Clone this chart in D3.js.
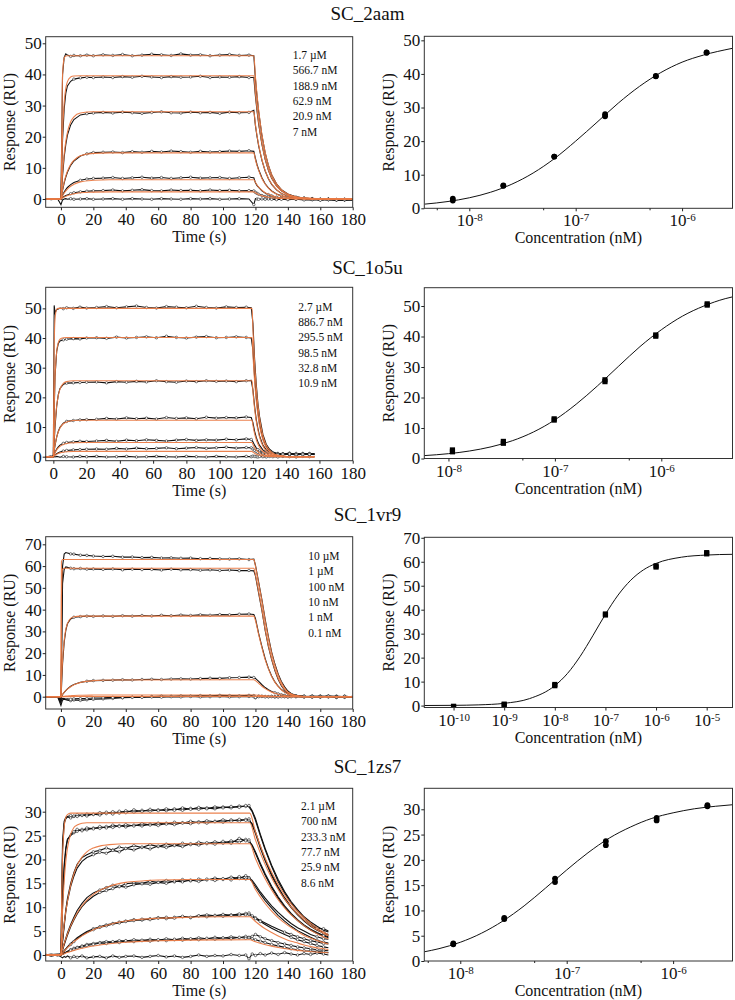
<!DOCTYPE html>
<html><head><meta charset="utf-8">
<script src="https://cdn.jsdelivr.net/npm/d3@7"></script>
<style>
body{margin:0;background:#fff}
svg text{font-family:"Liberation Serif","Times New Roman",Times,serif;fill:#111}
</style>
</head><body>
<svg id="c" width="735" height="1000" font-family="Liberation Serif, Times New Roman, serif"></svg>
<script>
// ================= DATA =================
const titles = ["SC_2aam","SC_1o5u","SC_1vr9","SC_1zs7"];

// ---- Panel 1 (SC_2aam) ----
const p1Labels = ["1.7 µM","566.7 nM","188.9 nM","62.9 nM","20.9 nM","7 nM"];
const p1Time = [-10,-6,-2,0,1,2,3,4,6,8,12,16,20,26,32,38,44,50,56,62,68,74,80,86,92,98,104,110,116,119,120,121,122,124,126,128,130,133,136,140,145,150,155,160,165,170,175,180];
const p1Black = [
 [0.1,-0.2,0.1,0, 40,45.5,46.6,46.2,45.8,46.1,46.0,46.2,46.0, 46.3,46.1,46.4,46.0,46.2,46.5,46.3,46.1,46.6,46.2,46.3,46.0,46.2,46.4,46.1,46.2, 46.0, 38.5,32.8,28.0,20.4,14.8,10.8,7.8,4.9,3.0,1.6,0.7,0.3,0.1,-0.2,-0.1,-0.3,-0.2,-0.1],
 [0,0.1,-0.1,0.1, 19,29,34,36.3,37.8,38.5,38.9,39.1,39.0, 39.2,39.0,39.3,39.1,39.4,39.2,39.0,39.3,39.1,39.2,39.4,39.0,39.2,39.1,39.3,39.0, 39.0, 33.0,28.2,24.0,17.5,12.7,9.2,6.7,4.2,2.6,1.4,0.6,0.3,0.1,-0.1,-0.2,-0.2,-0.3,-0.2],
 [-0.1,0.1,0,0, 7.5,13.5,17.5,20.5,23.8,25.5,27.0,27.4,27.6, 27.8,27.6,27.9,27.7,27.5,27.8,28.0,27.7,27.6,27.9,27.7,27.8,27.5,27.9,27.7,27.8, 28.5, 23.5,20.0,17.0,12.4,9.0,6.5,4.7,2.9,1.8,0.9,0.4,0.1,0,-0.2,-0.1,-0.3,-0.2,-0.2],
 [0.1,0,-0.1,0, 2.8,5.2,7.0,8.6,10.8,12.2,13.8,14.5,14.9, 15.0,15.1,14.9,15.2,15.0,15.3,15.1,15.4,15.2,15.0,15.3,15.1,15.2,15.4,15.3,15.5, 15.3, 13.0,11.0,9.4,6.8,4.9,3.6,2.6,1.6,1.0,0.5,0.2,0,-0.1,-0.2,-0.1,-0.3,-0.2,-0.1],
 [0,-0.1,0.1,0, 1.2,2.2,3.0,3.7,4.6,5.3,6.0,6.4,6.6, 6.7,6.9,6.6,6.8,7.0,6.7,6.9,6.6,6.8,7.0,6.7,6.8,6.9,6.6,6.8,7.0, 6.8, 5.2,4.3,3.7,2.6,1.9,1.4,1.0,0.6,0.3,0.1,0,-0.1,-0.1,-0.2,-0.1,-0.2,-0.3,-0.2],
 [0.1,0,0,-0.1, 0.5,0.8,1.1,1.3,1.7,2.0,2.3,2.5,2.6, 2.7,2.9,2.6,2.8,3.0,2.7,2.6,2.9,2.7,2.8,2.6,2.9,2.7,2.8,2.6,2.7, 2.6, 2.1,1.8,1.5,1.1,0.8,0.6,0.4,0.2,0.1,0,-0.1,-0.1,-0.2,-0.1,-0.2,-0.2,-0.1,-0.2],
 [0.1,-0.1,0,-1.8, -0.3,0,0.1,-0.1,0.1,-0.1,0,0.1,-0.1, 0,0.1,-0.1,0.1,0,-0.1,0.1,0,-0.1,0.1,0,0.1,-0.1,0,0.1,0, -1.8, 0.1,0,-0.1,0,-0.1,0,-0.1,-0.2,-0.1,-0.2,-0.1,-0.3,-0.2,-0.4,-0.2,-0.3,-0.2,-0.3]
];
const p1FitTime = [-10,0,1,2,3,4,6,8,12,20,30,119,120,121,122,124,126,128,130,133,136,140,145,150,160,180];
const p1Fit = [
 [0,0,39.8,45.2,45.9,46,46,46,46,46,46,46, 39.2,33.4,28.5,20.7,15.0,10.9,7.9,4.9,3.0,1.6,0.7,0.35,0.06,0],
 [0,0,21.1,30.9,35.6,37.7,39.2,39.5,39.6,39.6,39.6,39.6, 33.7,28.7,24.5,17.8,12.9,9.4,6.8,4.2,2.6,1.4,0.6,0.3,0.06,0],
 [0,0,8.5,14.4,18.5,21.4,24.8,26.4,27.6,28.0,28.0,28.0, 23.9,20.3,17.3,12.6,9.1,6.6,4.8,3.0,1.8,1.0,0.45,0.2,0.04,0],
 [0,0,3.0,5.5,7.4,8.9,11.1,12.4,13.9,14.65,14.8,14.8, 12.6,10.7,9.2,6.6,4.8,3.5,2.5,1.6,1.0,0.5,0.24,0.1,0.02,0],
 [0,0,1.0,1.9,2.6,3.2,4.1,4.7,5.5,6.0,6.2,6.2, 5.3,4.5,3.8,2.8,2.0,1.5,1.07,0.66,0.41,0.22,0.1,0.05,0,0],
 [0,0,0.35,0.65,0.9,1.1,1.45,1.7,2.0,2.2,2.3,2.3, 2.0,1.7,1.4,1.0,0.75,0.55,0.4,0.24,0.15,0.08,0.04,0.02,0,0]
];
const p1Conc = [7e-9,20.9e-9,62.9e-9,188.9e-9,566.7e-9,1.7e-6];
const p1RepA = [2.3,6.7,15.4,27.4,39.3,46.3];
const p1RepB = [2.9,6.8,15.4,28.0,39.4,46.4];
const p1CurveLogC = [-8.42,-8.2,-8.0,-7.8,-7.6,-7.4,-7.2,-7.0,-6.8,-6.6,-6.4,-6.2,-6.0,-5.8,-5.53];
const p1CurveResp = [1.24,2.02,3.13,4.78,7.18,10.5,14.8,20.0,25.6,31.3,36.3,40.4,43.5,45.6,47.6];

// ---- Panel 2 (SC_1o5u) ----
const p2Labels = ["2.7 µM","886.7 nM","295.5 nM","98.5 nM","32.8 nM","10.9 nM"];
const p2Time = [-5,-2,0,0.5,1,2,3,4,6,8,12,16,20,26,32,38,44,50,56,62,68,74,80,86,92,98,104,110,116,119,120,121,122,123,124,126,128,130,132,135,138,142,146,150,154,157];
const p2Black = [
 [-0.2,0,0.3, 51,48.5,49.6,49.8,50.1,49.9,50.2,50.0,50.4,50.1, 50.3,50.6,50.2,50.5,50.8,50.3,50.1,50.6,50.4,50.2,50.7,50.3,50.1,50.5,50.3,50.4, 50.2, 45,33,24.5,18,13.5,7.5,4.2,2.5,1.6,1.1,0.9,1.2,0.7,1.1,0.8,1.0],
 [0,0.1,0.2, 15,27,35.5,38.2,39.0,39.4,39.6,39.8,39.7,40.0, 40.1,39.9,40.3,40.0,40.2,40.4,40.1,40.6,40.2,40.0,40.3,40.5,40.1,40.2,40.4,40.2, 40.0, 36,27,20,15,11,6.0,3.4,2.0,1.3,0.9,1.0,0.7,1.1,0.8,1.0,0.7],
 [-0.1,0.1,0, 5,10,17,21,23,24.4,24.8,24.9,25.0,25.1, 25.2,24.9,25.3,25.1,25.4,25.2,25.6,25.3,25.1,25.5,25.3,25.6,25.4,25.5,25.3,25.6, 25.7, 22.5,17,12.5,9.5,7.0,3.9,2.3,1.5,1.1,0.8,0.9,1.1,0.7,0.9,1.1,0.8],
 [0,0,0, 2,3.8,6.6,8.6,9.9,11.3,11.9,12.2,12.4,12.5, 12.6,12.9,12.7,13.1,12.8,13.0,12.7,13.2,12.9,13.1,12.8,13.3,13.0,13.2,13.1,13.4, 13.2, 11.5,8.6,6.5,5.0,3.8,2.3,1.5,1.1,0.9,0.8,1.0,0.7,0.9,1.0,0.8,0.9],
 [0.1,-0.1,0, 0.8,1.5,2.6,3.3,3.9,4.5,4.8,5.0,5.2,5.1, 5.3,5.5,5.2,5.6,5.4,5.7,5.5,5.3,5.6,5.8,5.5,5.7,5.6,5.9,5.7,6.0, 5.8, 5.0,3.9,3.0,2.4,1.9,1.3,1.0,0.8,0.9,0.7,0.9,1.0,0.7,0.9,0.8,1.0],
 [0,0.1,0, 0.3,0.6,1.0,1.3,1.6,1.9,2.1,2.3,2.4,2.5, 2.6,2.5,2.8,2.6,2.9,2.7,2.8,3.0,2.7,2.9,3.1,2.8,3.0,3.2,2.9,3.1, 3.0, 2.6,2.1,1.7,1.4,1.2,0.9,0.8,0.7,0.8,0.6,0.8,0.9,0.6,0.8,0.7,0.9],
 [0,-0.1,0.1, 0,-0.1,0.1,0,-0.2,0.1,0,-0.1,0.1,0, 0.1,-0.1,0,0.1,-0.1,0,0.1,0,-0.1,0.1,0,-0.1,0.1,0,-0.1,0.1, 0, 0.2,0.1,0,-0.1,0.1,0,-0.1,0.1,0,-0.1,0.1,0,-0.1,0.1,0,-0.1]
];
const p2FitTime = [-5,0,0.5,1,2,3,4,6,8,12,20,119.5,120,121,122,123,124,126,128,130,132,135,138,142,157];
const p2Fit = [
 [0,0,36.4,46.3,49.7,50,50,50,50,50,50,50, 43.1,31.9,23.6,17.5,13.0,7.1,3.9,2.2,1.2,0.5,0.2,0,0],
 [0,0,16.5,26.3,35.4,38.5,39.6,40.1,40.2,40.2,40.2,40.2, 34.6,25.6,19.0,14.1,10.4,5.7,3.1,1.7,0.9,0.4,0.16,0,0],
 [0,0,6.1,10.8,17.1,20.7,22.8,24.7,25.3,25.6,25.6,25.6, 22.0,16.3,12.1,9.0,6.6,3.6,2.0,1.1,0.6,0.25,0.1,0,0],
 [0,0,2.15,3.9,6.6,8.4,9.7,11.1,11.7,12.2,12.3,12.3, 10.6,7.8,5.8,4.3,3.2,1.75,0.96,0.53,0.29,0.12,0.05,0,0],
 [0,0,0.73,1.35,2.3,3.0,3.5,4.14,4.46,4.7,4.8,4.8, 4.1,3.1,2.3,1.7,1.2,0.68,0.37,0.2,0.11,0.05,0.02,0,0],
 [0,0,0.26,0.48,0.83,1.09,1.28,1.52,1.65,1.76,1.8,1.8, 1.55,1.15,0.85,0.63,0.47,0.26,0.14,0.08,0.04,0.02,0,0,0]
];
const p2Conc = [10.9e-9,32.8e-9,98.5e-9,295.5e-9,886.7e-9,2.7e-6];
const p2RepA = [2.2,5.0,12.6,25.2,40.1,50.3];
const p2RepB = [2.8,5.6,13.0,25.8,40.5,50.7];
const p2CurveLogC = [-8.227,-8.0,-7.8,-7.6,-7.4,-7.2,-7.0,-6.8,-6.6,-6.4,-6.2,-6.0,-5.8,-5.6,-5.4,-5.33];
const p2CurveResp = [0.95,1.58,2.47,3.82,5.82,8.71,12.67,17.8,23.8,30.3,36.7,42.2,46.7,50.0,52.4,53.0];

// ---- Panel 3 (SC_1vr9) ----
const p3Labels = ["10 µM","1 µM","100 nM","10 nM","1 nM","0.1 nM"];
const p3Time = [-10,-6,-2,0,1,2,3,4,6,8,12,16,20,26,32,38,44,50,56,62,68,74,80,86,92,98,104,110,116,119,120,122,124,126,128,130,132,134,136,138,140,142,145,150,155,160,165,170,175,180];
const p3Black = [
 [0.2,-0.3,0.1,-3, 60,65.5,66.2,66.0,65.6,65.5,65.0,64.9,64.6, 64.4,64.5,64.1,64.2,63.9,64.0,63.7,63.8,63.6,63.7,63.4,63.5,63.3,63.2,63.3,63.0, 63.2, 60.5,52.5,44.5,35.5,27.5,20.5,15,10.5,7,4.5,2.6,1.5,0.6,0.2,-0.1,0.3,0.1,-0.4,0.2,-0.1],
 [0,0.1,-0.2,-2, 52,58.5,59.6,59.4,59.0,58.8,58.9,58.6,58.7, 58.5,58.7,58.3,58.6,58.4,58.5,58.2,58.6,58.3,58.4,58.1,58.3,58.0,58.2,57.9,58.0, 57.8, 55.5,47.5,39.5,30.5,23,17,12,8,5,3,1.7,1.0,0.4,0.1,0.2,-0.2,0.3,0.1,-0.3,0.2],
 [0,0,0.1,-1.5, 15,25,30.5,33.5,35.7,36.5,36.8,37.0,36.9, 37.1,36.9,37.2,37.0,37.3,37.1,37.4,37.2,37.5,37.3,37.6,37.4,37.7,37.6,37.9,38.0, 37.8, 36,29,23,17.5,13,9.5,6.8,4.8,3.3,2.2,1.4,0.9,0.4,0.1,-0.2,0.2,-0.1,0.3,0,-0.2],
 [0,0,0,-0.5, 1,2,2.8,3.6,4.8,5.6,6.6,7.1,7.4, 7.5,7.6,7.8,7.7,7.9,8.0,7.9,8.1,8.2,8.1,8.3,8.5,8.4,8.7,8.8,9.0, 8.8, 8.4,7.0,5.5,4.2,3.2,2.4,1.8,1.3,0.9,0.6,0.4,0.3,0.1,0,0.2,-0.1,0.3,0,-0.2,0.1],
 [0.1,-0.1,0,-4, -1.5,-1.2,-1.4,-1.6,-1.8,-1.5,-1.7,-1.4,-1.2, -1.0,-0.8,-0.5,-0.3,0,0.1,0.3,0.2,0.4,0.3,0.5,0.4,0.6,0.5,0.4,0.6, 0.5, -0.5,0.3,0.2,0.1,0,0.1,-0.1,0,0.2,0,-0.1,0.1,0,-0.2,0.3,0.1,0,-0.1,0.2,0],
 [0,0.1,-0.1,-2, -0.8,-0.9,-1.1,-1.0,-1.2,-1.0,-0.9,-0.8,-0.6, -0.5,-0.3,-0.4,-0.2,-0.3,-0.1,-0.2,0,-0.1,0.1,-0.1,0,0.1,-0.1,0,0.1, 0, -0.3,0,0.1,-0.1,0,0.1,0,-0.1,0,0.1,-0.1,0,0.1,0.2,-0.1,0,0.2,-0.1,0.1,0]
];
const p3FitTime = [-10,0,0.3,1,2,3,4,6,8,12,20,30,119,120,122,124,126,128,130,132,134,136,138,140,142,145,150,180];
const p3Fit = [
 [0,0,62,63,63,63,63,63,63,63,63,63,63, 60,52,44,35,27,20,14.5,10,6.5,4,2.2,1.2,0.5,0.1,0],
 [0,0,45,58.5,59,59,59,59,59,59,59,59,59, 56,48,40,31,23.5,17.5,12.5,8.5,5.5,3.3,1.9,1.1,0.45,0.1,0],
 [0,0,6.1,16.7,25.9,30.9,33.6,36.0,36.7,37,37,37,37, 35,28.5,22.5,17,12.8,9.3,6.7,4.7,3.2,2.1,1.3,0.8,0.35,0.05,0],
 [0,0,0.34,1.08,2.0,2.8,3.5,4.6,5.45,6.5,7.4,7.7,7.8, 7.4,6.1,4.8,3.7,2.8,2.1,1.55,1.1,0.8,0.55,0.35,0.25,0.1,0,0],
 [0,0,0.03,0.1,0.2,0.3,0.35,0.45,0.55,0.65,0.75,0.8,0.8, 0.76,0.63,0.5,0.38,0.29,0.22,0.16,0.11,0.08,0.05,0.03,0.02,0.01,0,0],
 [0,0,0,0.01,0.02,0.03,0.04,0.05,0.06,0.07,0.08,0.08,0.08, 0.07,0.06,0.05,0.04,0.03,0.02,0.015,0.01,0.01,0,0,0,0,0,0]
];
const p3Conc = [1e-10,1e-9,1e-8,1e-7,1e-6,1e-5];
const p3RepA = [-0.5,0.3,8.3,37.8,57.8,63.3];
const p3RepB = [-0.3,0.6,8.8,38.2,58.3,63.8];
const p3CurveLogC = [-10.58,-10,-9.5,-9,-8.5,-8,-7.75,-7.5,-7.25,-7,-6.75,-6.5,-6.25,-6,-5.5,-5,-4.49];
const p3CurveResp = [0.03,0.1,0.3,0.94,2.9,8.3,13.4,20.5,29.1,38.1,46.1,52.3,56.6,59.3,61.9,62.8,63.1];

// ---- Panel 4 (SC_1zs7) ----
const p4Labels = ["2.1 µM","700 nM","233.3 nM","77.7 nM","25.9 nM","8.6 nM"];
const p4Time = [-10,-6,-2,0,1,2,3,4,6,8,10,13,16,20,24,28,32,36,40,45,50,55,60,65,70,75,80,85,90,95,100,105,110,114,116,118,120,123,126,130,134,138,142,146,150,154,158,162,165];
const p4Black = [
 [0.2,-0.1,0.1,0.3, 24,28,28.8,29.0,29.2,29.0,29.4,29.2,29.5,29.4, 29.8,29.6,30.0,29.7,30.2, 29.9,30.3,30.1,30.4,30.2,30.6,30.3,30.7,30.5,30.8,30.6,31.0,30.8,31.2, 31.1,31.3,30.2, 28.6,25.3,22.3,18.8,15.8,13.3,11.2,9.5,8.0,6.9,6.0,5.2,4.8],
 [0,0.2,-0.1,0.1, 22,27.5,28.5,28.9,28.7,29.1,29.0,29.3,29.1,29.5, 29.3,29.9,29.5,30.1,29.8, 30.4,30.0,30.5,30.2,30.6,30.3,30.8,30.5,30.9,30.6,31.0,30.8,31.1,30.9, 31.3,31.0,30.0, 28.2,25.0,22.0,18.5,15.4,13.0,10.9,9.2,7.8,6.6,5.6,5.5,5.0],
 [0.1,-0.2,0,0.2, 12,19,22.5,24.3,25.0,25.6,25.9,26.3,26.2,26.6, 26.5,26.9,26.7,27.1,26.8, 27.2,27.0,27.4,27.1,27.6,27.3,27.7,27.5,27.9,27.6,28.0,27.8,28.3,28.0, 28.4,28.1,27.5, 25.8,22.8,20.0,16.9,14.2,12.0,10.1,8.6,7.3,6.2,5.4,4.7,4.3],
 [-0.1,0.1,0.2,0, 10,18,22,24.0,25.3,25.8,26.3,26.0,26.6,26.4, 26.9,26.6,27.2,26.9,27.3, 27.0,27.5,27.2,27.6,27.4,27.8,27.6,28.0,27.7,28.1,27.9,28.3,28.0,28.4, 28.2,28.5,27.2, 25.4,22.4,19.7,16.6,13.9,11.7,9.9,8.4,7.1,6.0,5.2,4.6,4.1],
 [0,0.1,-0.2,0.1, 3,6.5,9.5,11.8,15.0,17.3,19.0,20.4,21.0,21.6, 21.9,22.4,22.0,22.6,22.3, 22.9,22.5,23.1,22.7,23.2,22.9,23.4,23.1,23.6,23.3,23.7,23.4,23.9,23.6, 24.2,23.8,23.0, 21.6,19.2,17.0,14.4,12.2,10.3,8.7,7.4,6.3,5.4,4.7,4.1,3.8],
 [0.1,0,0.1,-0.1, 2.8,6.0,9.0,11.2,14.3,16.5,18.2,19.6,20.4,21.0, 21.5,21.3,21.9,21.6,22.3, 22.0,22.6,22.2,22.8,22.5,23.0,22.7,23.3,23.0,23.5,23.2,23.8,23.4,24.4, 23.9,24.1,22.8, 21.3,18.9,16.7,14.1,11.9,10.0,8.5,7.2,6.1,5.2,4.5,4.0,3.6],
 [0,-0.1,0.1,0, 1.2,2.4,3.5,4.6,6.4,7.9,9.3,10.8,12.0,13.0, 13.6,14.1,14.6,14.3,14.9, 15.1,15.0,15.4,15.2,15.6,15.3,15.8,15.5,15.9,15.7,16.1,15.8,16.3,16.0, 16.6,16.2,15.6, 14.7,13.2,11.9,10.3,8.9,7.7,6.6,5.7,5.0,4.3,3.8,3.4,3.3],
 [0.1,0,-0.1,0.1, 1.0,2.1,3.1,4.1,5.9,7.3,8.6,10.1,11.2,12.3, 13.1,13.5,13.9,14.4,14.2, 14.7,14.9,14.8,15.2,15.0,15.5,15.3,15.7,15.4,15.9,15.6,16.0,15.7,16.4, 15.9,16.1,15.3, 14.3,12.8,11.4,9.8,8.3,7.1,6.0,5.1,4.4,3.7,3.1,2.7,2.5],
 [0,0.1,0,-0.1, 0.4,0.9,1.3,1.7,2.4,3.0,3.6,4.3,4.9,5.5, 5.9,6.3,6.6,6.9,7.1, 7.4,7.3,7.6,7.8,7.6,7.9,8.0,7.8,8.2,8.0,8.3,8.1,8.4,8.3, 8.7,8.5,8.2, 7.8,7.2,6.7,6.0,5.4,4.8,4.3,3.8,3.4,3.0,2.7,2.4,2.3],
 [0.1,0,-0.1,0, 0.3,0.8,1.2,1.6,2.2,2.8,3.4,4.1,4.7,5.3, 5.8,6.1,6.5,6.7,7.0, 7.2,7.5,7.4,7.7,7.9,7.7,8.1,7.9,8.2,8.4,8.2,8.5,8.3,8.6, 8.4,8.8,8.1, 7.6,7.0,6.4,5.6,4.9,4.3,3.7,3.2,2.8,2.4,2.0,1.7,1.5],
 [0,-0.1,0,0.1, 0.2,0.4,0.6,0.8,1.1,1.4,1.6,1.9,2.2,2.4, 2.6,2.8,2.7,3.0,2.9, 3.2,3.0,3.3,3.1,3.4,3.2,3.5,3.3,3.6,3.4,3.7,3.5,3.8,3.6, 3.9,3.7,3.9, 4.3,3.8,3.4,3.0,2.6,2.3,2.0,1.7,1.5,1.3,1.1,1.0,0.9],
 [0.1,0,-0.1,0, 0.1,0.3,0.5,0.7,1.0,1.2,1.5,1.7,2.0,2.2, 2.5,2.4,2.8,2.6,3.0, 2.8,3.1,2.9,3.2,3.0,3.3,3.1,3.4,3.2,3.5,3.3,3.6,3.4,3.7, 3.5,3.6,3.4, 3.2,2.9,2.6,2.2,1.9,1.6,1.3,1.1,0.9,0.8,0.7,0.6,0.5],
 [0.1,-0.2,0,-0.4, -0.6,-0.3,-0.5,-0.2,-0.6,-0.3,-0.5,-0.2,-0.6,-0.4, -0.3,-0.6,-0.2,-0.5,-0.3, -0.2,-0.5,-0.3,-0.1,-0.4,-0.2,-0.5,-0.3,0,-0.3,-0.1,-0.2,0.1,-0.1, 0,-0.8,0.2, -0.1,0.3,0,0.4,0.1,0.5,0.2,0,0.3,0.1,0.4,0.2,0]
];
const p4FitTime = [-10,0,0.5,1,2,3,4,6,8,10,13,16,20,25,30,40,50,60,80,100,116.5,120,125,130,135,140,145,150,155,160,165];
const p4Fit = [
 [0,0,13.1,20.4,26.8,28.8,29.4,29.7,29.7,29.7,29.7,29.7,29.7,29.7,29.7,29.7,29.7,29.7,29.7,29.7, 29.7, 25.8,21.1,17.3,14.2,11.6,9.5,7.8,6.4,5.2,4.3],
 [0,0,5.1,9.3,15.5,19.6,22.3,25.3,26.7,27.2,27.6,27.7,27.7,27.7,27.7,27.7,27.7,27.7,27.7,27.7, 27.7, 24.1,19.7,16.1,13.2,10.8,8.9,7.3,5.9,4.9,4.0],
 [0,0,1.8,3.5,6.5,9.1,11.2,14.6,17.0,18.8,20.5,21.6,22.4,22.9,23.1,23.3,23.3,23.3,23.3,23.3, 23.3, 20.2,16.6,13.6,11.1,9.1,7.5,6.1,5.0,4.1,3.4],
 [0,0,0.63,1.23,2.4,3.4,4.4,6.1,7.5,8.8,10.3,11.5,12.7,13.7,14.4,15.2,15.5,15.7,15.8,15.8, 15.8, 13.7,11.2,9.2,7.5,6.2,5.1,4.1,3.4,2.8,2.3],
 [0,0,0.21,0.42,0.82,1.2,1.55,2.2,2.8,3.3,4.0,4.6,5.3,5.9,6.4,7.1,7.5,7.7,7.9,8.0, 8.0, 7.0,5.7,4.7,3.8,3.1,2.6,2.1,1.7,1.4,1.15],
 [0,0,0.07,0.14,0.27,0.4,0.52,0.75,0.96,1.15,1.4,1.63,1.89,2.15,2.36,2.66,2.85,2.98,3.11,3.16, 3.18, 2.76,2.26,1.85,1.52,1.24,1.02,0.83,0.68,0.56,0.46]
];
const p4Conc = [8.6e-9,25.9e-9,77.7e-9,233.3e-9,700e-9,2.1e-6];
const p4RepA = [3.3,8.3,15.6,22.9,27.8,30.6];
const p4RepB = [3.5,8.5,16.3,23.7,28.3,30.8];
const p4CurveLogC = [-8.338,-8.2,-8.0,-7.8,-7.6,-7.4,-7.2,-7.0,-6.8,-6.6,-6.4,-6.2,-6.0,-5.8,-5.6,-5.442];
const p4CurveResp = [1.82,2.44,3.7,5.5,7.9,10.9,14.4,18.0,21.4,24.3,26.5,28.2,29.3,30.1,30.6,30.9];

// tick values
const timeTicks = [0,20,40,60,80,100,120,140,160,180];
const respTicks10_50 = [0,10,20,30,40,50];
const respTicks10_70 = [0,10,20,30,40,50,60,70];
const respTicks5_30 = [0,5,10,15,20,25,30];

// ================= LAYOUT =================
const FONT = '"Liberation Serif","Times New Roman",Times,serif';
const ORANGE = "#ea7a44";
const TICKFS = 17;
const rows = [
 {titleY:20, legX:292.7, legY:59,
  L:{x0:45.7,x1:352.7,y0:36.7,y1:207.3,xd:[-9.4,180],yd:[-2.67,52.12],yt:respTicks10_50},
  R:{x0:424.3,x1:732.5,y0:36.3,y1:208.3,xd:[-8.423,-5.526],yd:[0,51.2],yt:respTicks10_50,dec:[-8,-7,-6],minor:true,mk:"circle"}},
 {titleY:273.5, legX:298.3, legY:310.7,
  L:{x0:45.7,x1:352.7,y0:287.3,y1:460.7,xd:[-4.6,180],yd:[-1.35,57.1],yt:respTicks10_50},
  R:{x0:424.3,x1:732.5,y0:287.7,y1:458.5,xd:[-8.227,-5.331],yd:[0,56],yt:respTicks10_50,dec:[-8,-7,-6],minor:true,mk:"square"}},
 {titleY:521, legX:308.3, legY:560,
  L:{x0:45.7,x1:352.7,y0:536.7,y1:709,xd:[-9.4,180],yd:[-5.65,73.5],yt:respTicks10_70},
  R:{x0:424.3,x1:732.5,y0:537.3,y1:707.5,xd:[-10.578,-4.49],yd:[-0.8,70.2],yt:respTicks10_70,dec:[-10,-9,-8,-7,-6,-5],minor:false,mk:"square"}},
 {titleY:773, legX:301, legY:810,
  L:{x0:45.7,x1:352.7,y0:788.3,y1:961,xd:[-9.4,180],yd:[-1.26,34.9],yt:respTicks5_30},
  R:{x0:424.3,x1:732.5,y0:788.3,y1:961,xd:[-8.338,-5.442],yd:[0,34.15],yt:respTicks5_30,dec:[-8,-7,-6],minor:true,mk:"circle"}}
];
const panelData = [
 {labels:p1Labels,time:p1Time,black:p1Black,fitTime:p1FitTime,fit:p1Fit,conc:p1Conc,a:p1RepA,b:p1RepB,cl:p1CurveLogC,cr:p1CurveResp},
 {labels:p2Labels,time:p2Time,black:p2Black,fitTime:p2FitTime,fit:p2Fit,conc:p2Conc,a:p2RepA,b:p2RepB,cl:p2CurveLogC,cr:p2CurveResp},
 {labels:p3Labels,time:p3Time,black:p3Black,fitTime:p3FitTime,fit:p3Fit,conc:p3Conc,a:p3RepA,b:p3RepB,cl:p3CurveLogC,cr:p3CurveResp},
 {labels:p4Labels,time:p4Time,black:p4Black,fitTime:p4FitTime,fit:p4Fit,conc:p4Conc,a:p4RepA,b:p4RepB,cl:p4CurveLogC,cr:p4CurveResp}
];

// ================= DRAW =================
const svg = d3.select("#c");
const defs = svg.append("defs");
let clipN = 0;
function clip(c){
  const id = "clip"+(clipN++);
  defs.append("clipPath").attr("id",id).append("rect")
    .attr("x",c.x0).attr("y",c.y0).attr("width",c.x1-c.x0).attr("height",c.y1-c.y0);
  return "url(#"+id+")";
}
function styleAxis(a){
  a.attr("font-family",FONT).attr("font-size",TICKFS);
  a.select(".domain").remove();
  a.selectAll(".tick line").attr("stroke","#222");
  a.selectAll(".tick text").attr("fill","#111");
}
function frame(c){
  svg.append("rect").attr("x",c.x0).attr("y",c.y0).attr("width",c.x1-c.x0).attr("height",c.y1-c.y0)
    .attr("fill","none").attr("stroke","#333").attr("stroke-width",1);
}

function drawLeft(row, d){
  const c = row.L;
  const x = d3.scaleLinear().domain(c.xd).range([c.x0,c.x1]);
  const y = d3.scaleLinear().domain(c.yd).range([c.y1,c.y0]);
  const g = svg.append("g").attr("clip-path",clip(c));
  const bl = d3.line().x((v,i)=>x(d.time[i])).y(v=>y(v));
  d.black.forEach(tr=>{
    g.append("path").attr("d",bl(tr)).attr("fill","none").attr("stroke","#111").attr("stroke-width",1.1);
  });
  // small open circle markers on flat stretches
  d.black.forEach(tr=>{
    tr.forEach((v,i)=>{
      if(i===0 || i===tr.length-1) return;
      if(d.time[i] < 5) return;
      if(Math.abs(tr[i+1]-tr[i-1])>1.2) return;
      g.append("circle").attr("cx",x(d.time[i])).attr("cy",y(v)).attr("r",1.25)
        .attr("fill","#fff").attr("stroke","#222").attr("stroke-width",0.6);
    });
  });
  const fl = d3.line().x((v,i)=>x(d.fitTime[i])).y(v=>y(v)).curve(d3.curveMonotoneX);
  d.fit.forEach(tr=>{
    g.append("path").attr("d",fl(tr)).attr("fill","none").attr("stroke",ORANGE).attr("stroke-width",1.1).attr("stroke-opacity",0.95);
  });
  frame(c);
  svg.append("g").attr("transform",`translate(0,${c.y1})`)
    .call(d3.axisBottom(x).tickValues(timeTicks).tickSize(3).tickPadding(3).tickFormat(d3.format("d")))
    .call(styleAxis);
  svg.append("g").attr("transform",`translate(${c.x0},0)`)
    .call(d3.axisLeft(y).tickValues(c.yt).tickSize(3).tickPadding(1).tickFormat(d3.format("d")))
    .call(styleAxis);
  svg.append("text").attr("x",(c.x0+c.x1)/2).attr("y",c.y1+35).attr("text-anchor","middle")
    .attr("font-size",16).text("Time (s)");
  svg.append("text").attr("transform",`translate(15,${(c.y0+c.y1)/2}) rotate(-90)`).attr("text-anchor","middle")
    .attr("font-size",16).text("Response (RU)");
  d.labels.forEach((t,i)=>{
    svg.append("text").attr("x",row.legX).attr("y",row.legY+i*15.3).attr("font-size",11.5).text(t);
  });
}

function drawRight(row, d){
  const c = row.R;
  const x = d3.scaleLog().domain([Math.pow(10,c.xd[0]),Math.pow(10,c.xd[1])]).range([c.x0,c.x1]);
  const y = d3.scaleLinear().domain(c.yd).range([c.y1,c.y0]);
  const g = svg.append("g").attr("clip-path",clip(c));
  const cl = d3.line().x((v,i)=>x(Math.pow(10,d.cl[i]))).y(v=>y(v)).curve(d3.curveMonotoneX);
  g.append("path").attr("d",cl(d.cr)).attr("fill","none").attr("stroke","#111").attr("stroke-width",1);
  [d.a,d.b].forEach(rep=>{
    rep.forEach((v,i)=>{
      const px = x(d.conc[i]), py = y(v);
      if(c.mk==="circle"){
        g.append("circle").attr("cx",px).attr("cy",py).attr("r",2.9).attr("fill","#000");
      } else {
        g.append("rect").attr("x",px-2.6).attr("y",py-2.6).attr("width",5.2).attr("height",5.2).attr("fill","#000");
      }
    });
  });
  frame(c);
  const decVals = c.dec.map(e=>Math.pow(10,e));
  const ax = svg.append("g").attr("transform",`translate(0,${c.y1})`)
    .call(d3.axisBottom(x).tickValues(decVals).tickSize(3).tickPadding(3).tickFormat(()=>""))
    .call(styleAxis);
  ax.selectAll(".tick text").each(function(v){
    const t = d3.select(this);
    const e = Math.round(Math.log10(v));
    t.append("tspan").text("10");
    t.append("tspan").attr("dy","-0.45em").attr("font-size",11).text(String(e));
  });
  if(c.minor){
    const minors = [];
    for(let e=Math.floor(c.xd[0]); e<=Math.ceil(c.xd[1]); e++){
      const v = 5*Math.pow(10,e);
      if(Math.log10(v)>c.xd[0] && Math.log10(v)<c.xd[1]) minors.push(v);
    }
    svg.append("g").selectAll("line").data(minors).join("line")
      .attr("x1",v=>x(v)).attr("x2",v=>x(v)).attr("y1",c.y1).attr("y2",c.y1+2)
      .attr("stroke","#222");
  }
  svg.append("g").attr("transform",`translate(${c.x0},0)`)
    .call(d3.axisLeft(y).tickValues(c.yt).tickSize(3).tickPadding(1).tickFormat(d3.format("d")))
    .call(styleAxis);
  svg.append("text").attr("x",(c.x0+c.x1)/2).attr("y",c.y1+35).attr("text-anchor","middle")
    .attr("font-size",16).text("Concentration (nM)");
  svg.append("text").attr("transform",`translate(394,${(c.y0+c.y1)/2}) rotate(-90)`).attr("text-anchor","middle")
    .attr("font-size",16).text("Response (RU)");
}

rows.forEach((row,i)=>{
  svg.append("text").attr("x",367.5).attr("y",row.titleY).attr("text-anchor","middle")
    .attr("font-size",19).text(titles[i]);
  drawLeft(row, panelData[i]);
  drawRight(row, panelData[i]);
});
</script>
</body></html>
